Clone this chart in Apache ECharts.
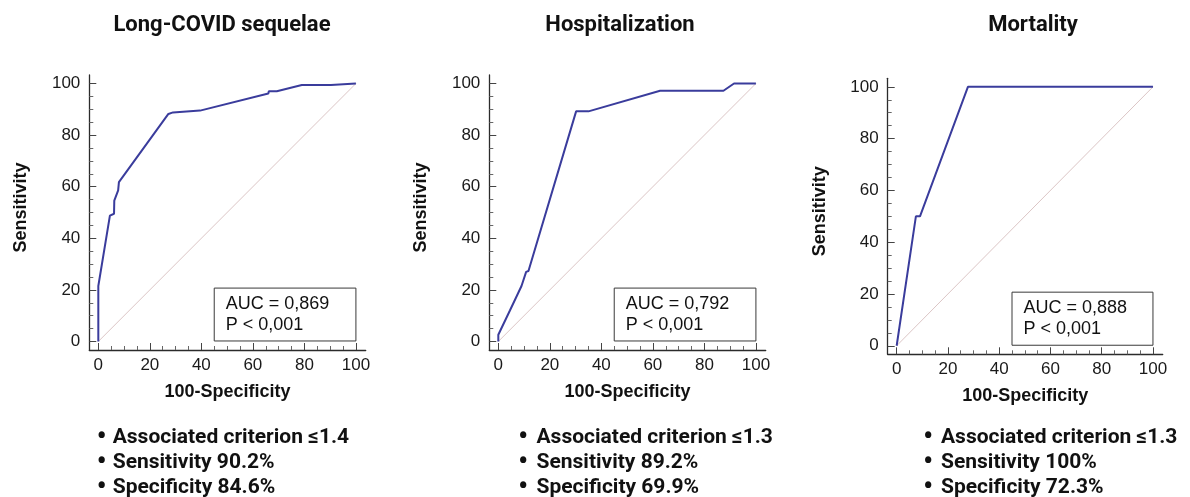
<!DOCTYPE html>
<html>
<head>
<meta charset="utf-8">
<script src="https://cdn.jsdelivr.net/npm/echarts@6/dist/echarts.min.js"></script>
<style>
html,body{margin:0;padding:0;background:#fff;}
#main{width:1190px;height:497px;}
</style>
</head>
<body>
<div id="main"></div>
<script>
// ---- data ----
const titles = ['Long-COVID sequelae', 'Hospitalization', 'Mortality'];
const rocLongCovid = [[0,0],[0,21.5],[4.5,48.8],[6.1,49.5],[6.2,54.6],[7.7,58.6],[8.0,61.8],[27.2,88.2],[29,88.8],[39.5,89.5],[66,96.1],[66.2,97],[69.3,97],[79,99.4],[90.3,99.4],[90.5,100],[100,100]];
const rocHospitalization = [[0,0],[0,2.6],[4.5,12],[9,21.5],[10.8,27],[11.7,27.3],[30.2,89.2],[35,89.2],[62.8,97.2],[87.4,97.2],[91.5,100],[100,100]];
const rocMortality = [[0,0],[7.5,50],[9.1,50],[27.8,100],[100,100]];
const diagonal = [[0,0],[100,100]];
const aucValues = ['0,869', '0,792', '0,888'];
const pValues = ['< 0,001', '< 0,001', '< 0,001'];
const criteria = ['≤1.4', '≤1.3', '≤1.3'];
const sensitivity = ['90.2%', '89.2%', '100%'];
const specificity = ['84.6%', '69.9%', '72.3%'];
const majorTicks = [0, 20, 40, 60, 80, 100];
const minorTicks = [5,10,15,25,30,35,45,50,55,65,70,75,85,90,95];
const xName = '100-Specificity';
const yName = 'Sensitivity';

// ---- layout ----
const grids = [
  {left: 89.3, top: 75, width: 276.4, height: 275},
  {left: 489.3, top: 75, width: 276.4, height: 275},
  {left: 887.7, top: 78.3, width: 275, height: 276}
];
const titleX = [222, 620, 1033];
const bulletX = [101.7, 523, 928];
const textX = [112.7, 536.5, 941];
const rocs = [rocLongCovid, rocHospitalization, rocMortality];

const X_MIN = -3.5, X_MAX = 103.8, Y_MIN = -3.3, Y_MAX = 103.3;
const axisFont = '"Liberation Sans", Arimo, Arial, sans-serif';
const lineColor = '#2b2b2b';

const option = {
  animation: false,
  backgroundColor: '#fff',
  grid: grids.map(g => Object.assign({containLabel: false}, g)),
  xAxis: [],
  yAxis: [],
  series: [],
  graphic: []
};

grids.forEach((g, i) => {
  option.xAxis.push({
    type: 'value', gridIndex: i, min: X_MIN, max: X_MAX, position: 'bottom',
    name: xName, nameLocation: 'middle', nameGap: 33,
    nameTextStyle: {fontFamily: axisFont, fontWeight: 'bold', fontSize: 18, color: '#111'},
    axisLine: {show: true, onZero: false, lineStyle: {color: lineColor, width: 1.3}},
    axisTick: {show: true, inside: true, length: 7, customValues: majorTicks, lineStyle: {color: '#444', width: 1}},
    axisLabel: {show: true, margin: 7, customValues: majorTicks, fontFamily: axisFont, fontSize: 17, color: '#1a1a1a'},
    splitLine: {show: false}
  });
  option.xAxis.push({
    type: 'value', gridIndex: i, min: X_MIN, max: X_MAX, position: 'bottom',
    axisLine: {show: false, onZero: false},
    axisTick: {show: true, inside: true, length: 4, customValues: minorTicks, lineStyle: {color: '#666', width: 1}},
    axisLabel: {show: false},
    splitLine: {show: false}
  });
  option.yAxis.push({
    type: 'value', gridIndex: i, min: Y_MIN, max: Y_MAX, position: 'left',
    name: yName, nameLocation: 'middle', nameGap: 59,
    nameTextStyle: {fontFamily: axisFont, fontWeight: 'bold', fontSize: 18, color: '#111', padding: [0, 0, 0, 10]},
    axisLine: {show: true, onZero: false, lineStyle: {color: lineColor, width: 1.3}},
    axisTick: {show: true, inside: true, length: 7, customValues: majorTicks, lineStyle: {color: '#444', width: 1}},
    axisLabel: {show: true, margin: 9, customValues: majorTicks, fontFamily: axisFont, fontSize: 17, color: '#1a1a1a'},
    splitLine: {show: false}
  });
  option.yAxis.push({
    type: 'value', gridIndex: i, min: Y_MIN, max: Y_MAX, position: 'left',
    axisLine: {show: false, onZero: false},
    axisTick: {show: true, inside: true, length: 4, customValues: minorTicks, lineStyle: {color: '#666', width: 1}},
    axisLabel: {show: false},
    splitLine: {show: false}
  });

  option.series.push({
    type: 'line', xAxisIndex: i * 2, yAxisIndex: i * 2, data: diagonal,
    showSymbol: false, silent: true, z: 2,
    lineStyle: {color: '#dcc6c6', width: 1},
    markArea: {
      silent: true,
      itemStyle: {color: '#ffffff', borderColor: '#3a3a3a', borderWidth: 1},
      label: {
        show: true, position: 'insideLeft', distance: 12,
        fontFamily: axisFont, fontSize: 18, lineHeight: 21, color: '#111',
        formatter: 'AUC = ' + aucValues[i] + '\nP ' + pValues[i]
      },
      data: [[{xAxis: 45, yAxis: 0.2}, {xAxis: 100, yAxis: 20.7}]]
    }
  });
  option.series.push({
    type: 'line', xAxisIndex: i * 2, yAxisIndex: i * 2, data: rocs[i],
    showSymbol: false, silent: true, z: 3,
    lineStyle: {color: '#3a3c9c', width: 2}
  });

  option.graphic.push({
    type: 'text', x: titleX[i], y: 25,
    style: {text: titles[i], fontFamily: 'Roboto, sans-serif', fontWeight: 'bold', fontSize: 22,
      fill: '#111', textAlign: 'center', textVerticalAlign: 'middle'}
  });
  option.graphic.push({
    type: 'text', x: bulletX[i], y: 463,
    style: {text: '•\n•\n•', fontFamily: 'Roboto, sans-serif', fontWeight: 'bold', fontSize: 27, lineHeight: 25,
      fill: '#111', textAlign: 'center', textVerticalAlign: 'middle'}
  });
  option.graphic.push({
    type: 'text', x: textX[i], y: 463,
    style: {
      text: 'Associated criterion ' + criteria[i] + '\nSensitivity ' + sensitivity[i] + '\nSpecificity ' + specificity[i],
      fontFamily: 'Roboto, sans-serif', fontWeight: 'bold', fontSize: 21, lineHeight: 25,
      fill: '#111', textAlign: 'left', textVerticalAlign: 'middle'}
  });
});

const chart = echarts.init(document.getElementById('main'), null, {renderer: 'canvas'});
chart.setOption(option);
</script>
</body>
</html>
